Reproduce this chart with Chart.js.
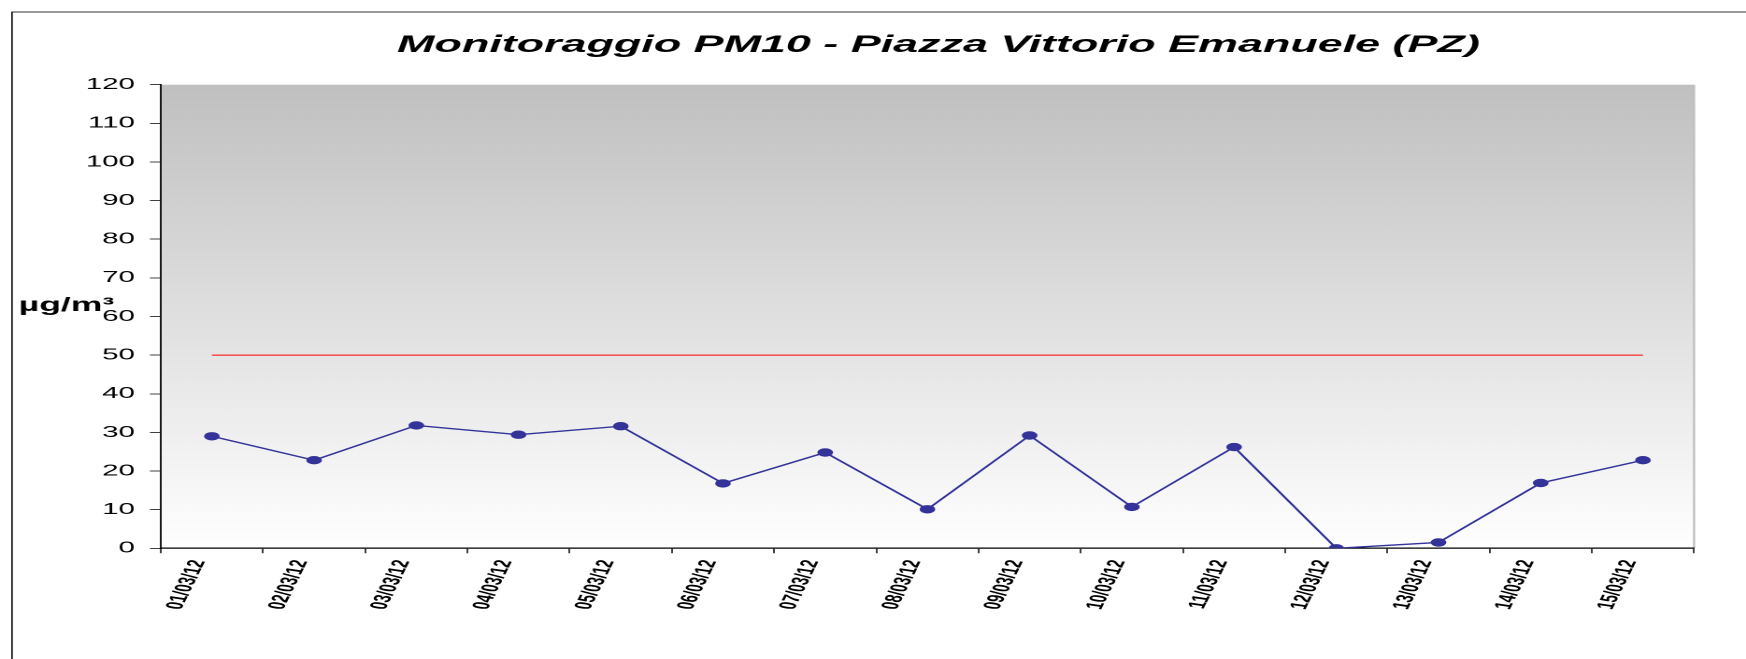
<!DOCTYPE html>
<html lang="it">
<head>
  <meta charset="UTF-8">
  <title>Monitoraggio PM10</title>
  <script src="https://cdn.jsdelivr.net/npm/chart.js"></script>
  <style>
    body, html {
      margin: 0;
      padding: 0;
      background: #fff;
      overflow: hidden;
    }
    /* il grafico originale è stirato in orizzontale */
    #box {
      width: 934px;
      height: 659px;
      transform: scaleX(1.8694);
      transform-origin: 0 0;
    }
  </style>
</head>
<body>
  <div id="box"><canvas id="grafico"></canvas></div>
  <script>
    const giorni = ["01/03/12", "02/03/12", "03/03/12", "04/03/12", "05/03/12",
      "06/03/12", "07/03/12", "08/03/12", "09/03/12", "10/03/12",
      "11/03/12", "12/03/12", "13/03/12", "14/03/12", "15/03/12"];
    const pm10 = [29.0, 22.8, 31.8, 29.4, 31.6, 16.8, 24.8, 10.1, 29.2, 10.7, 26.2, 0, 1.5, 16.9, 22.8];
    const limite = [50, 50, 50, 50, 50, 50, 50, 50, 50, 50, 50, 50, 50, 50, 50];
    const titolo = "Monitoraggio PM10 - Piazza Vittorio Emanuele (PZ)";
    const unita = "µg/m³";

    const font = "'Liberation Sans', Arial, sans-serif";

    const decorazioni = {
      id: "decorazioni",
      beforeDraw(chart) {
        const { ctx, chartArea: a } = chart;
        ctx.save();
        const g = ctx.createLinearGradient(0, a.top, 0, a.bottom);
        g.addColorStop(0, "#c0c0c0");
        g.addColorStop(1, "#ffffff");
        ctx.fillStyle = g;
        ctx.fillRect(a.left, a.top, a.right - a.left, a.bottom - a.top);
        ctx.strokeStyle = "#c0c0c0";
        ctx.lineWidth = 1.2;
        ctx.beginPath();
        ctx.moveTo(a.right, a.top);
        ctx.lineTo(a.right, a.bottom);
        ctx.stroke();
        ctx.restore();
      },
      afterDraw(chart) {
        const { ctx } = chart;
        ctx.save();
        ctx.strokeStyle = "#000";
        ctx.lineWidth = 0.8;
        ctx.strokeRect(6.4, 12, 2000, 2000);
        ctx.fillStyle = "#000";
        ctx.font = "italic bold 24px " + font;
        ctx.textAlign = "center";
        ctx.textBaseline = "alphabetic";
        ctx.fillText(titolo, 502, 52);
        ctx.font = "bold 19px " + font;
        ctx.textAlign = "left";
        ctx.fillText(unita, 10, 311);
        ctx.restore();
      }
    };

    new Chart(document.getElementById("grafico"), {
      type: "line",
      data: {
        labels: giorni,
        datasets: [{
          label: "PM10",
          data: pm10,
          borderColor: "#333399",
          backgroundColor: "#333399",
          borderWidth: 1.4,
          pointStyle: "circle",
          pointRadius: 3.7,
          pointBorderWidth: 1,
          tension: 0,
          fill: false
        }, {
          label: "Limite",
          data: limite,
          borderColor: "#ff0000",
          borderWidth: 1,
          pointRadius: 0,
          fill: false
        }]
      },
      options: {
        responsive: true,
        maintainAspectRatio: false,
        animation: false,
        devicePixelRatio: 2,
        layout: { padding: { top: 84.7, right: 27.8, left: 0, bottom: 0 } },
        plugins: {
          legend: { display: false },
          title: { display: false },
          tooltip: { enabled: false }
        },
        scales: {
          x: {
            offset: true,
            afterFit(s) { s.height = 110.7; },
            grid: {
              offset: true,
              drawOnChartArea: false,
              drawTicks: true,
              tickLength: 5,
              color: "#404040"
            },
            border: { display: true, color: "#000", width: 1.2 },
            ticks: {
              autoSkip: false,
              minRotation: 75,
              maxRotation: 75,
              labelOffset: -7,
              padding: 5,
              color: "#000",
              font: { family: font, size: 13, weight: "bold" }
            }
          },
          y: {
            min: 0,
            max: 120,
            afterFit(s) { s.width = 86; },
            grid: {
              drawOnChartArea: false,
              drawTicks: true,
              tickLength: 5.8,
              color: "#404040"
            },
            border: { display: true, color: "#000", width: 0.9 },
            ticks: {
              stepSize: 10,
              padding: 8,
              color: "#000",
              font: { family: font, size: 15.8 }
            }
          }
        }
      },
      plugins: [decorazioni]
    });
  </script>
</body>
</html>
